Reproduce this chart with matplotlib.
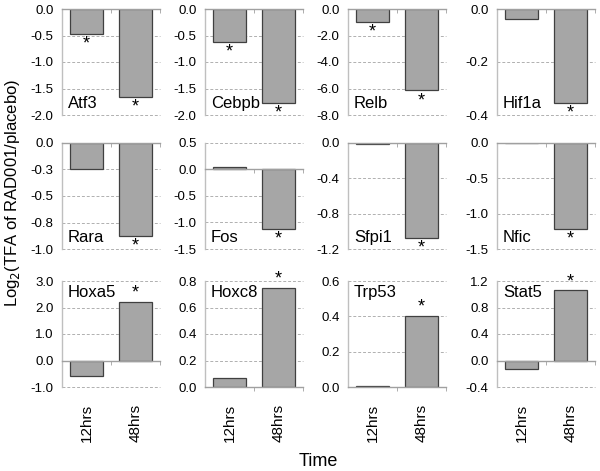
import matplotlib.pyplot as plt
import numpy as np

plt.rcParams['font.family'] = ['Liberation Sans', 'DejaVu Sans']

times = ["12hrs", "48hrs"]
genes = ["Atf3", "Cebpb", "Relb", "Hif1a",
         "Rara", "Fos", "Sfpi1", "Nfic",
         "Hoxa5", "Hoxc8", "Trp53", "Stat5"]
values = [[-0.47, -1.66], [-0.62, -1.78], [-1.0, -6.15], [-0.037, -0.355],
          [-0.245, -0.875], [0.05, -1.13], [-0.006, -1.07], [-0.006, -1.21],
          [-0.59, 2.21], [0.068, 0.75], [0.005, 0.404], [-0.125, 1.06]]
signif = [[True, True], [True, True], [True, True], [False, True],
          [False, True], [False, True], [False, True], [False, True],
          [False, True], [False, True], [False, True], [False, True]]
ylims = [(-2.0, 0.0), (-2.0, 0.0), (-8.0, 0.0), (-0.4, 0.0),
         (-1.0, 0.0), (-1.5, 0.5), (-1.2, 0.0), (-1.5, 0.0),
         (-1.0, 3.0), (0.0, 0.8), (0.0, 0.6), (-0.4, 1.2)]
ysteps = [0.5, 0.5, 2.0, 0.2, 0.25, 0.5, 0.4, 0.5, 1.0, 0.2, 0.2, 0.4]


def fmt(t):
    v = np.sign(t) * np.floor(abs(t) * 10 + 0.5) / 10
    return "%.1f" % v if abs(v) > 1e-9 else "0.0"


W, H = 600, 471
fig = plt.figure(figsize=(6, 4.71), dpi=100)
col_left = [62, 205, 348, 497]
row_top = [9, 143, 281]
aw, ah = 98, 106

for i, gene in enumerate(genes):
    r, c = divmod(i, 4)
    ax = fig.add_axes([col_left[c] / W, 1 - (row_top[r] + ah) / H, aw / W, ah / H])
    lo, hi = ylims[i]
    x = np.arange(2)
    ax.bar(x, values[i], width=0.66, color='#a6a6a6', edgecolor='#404040', linewidth=0.9, zorder=3)
    ax.set_xlim(-0.5, 1.5)
    ax.set_ylim(lo, hi)
    ticks = np.arange(lo, hi + 1e-9, ysteps[i])
    ax.set_yticks(ticks)
    ax.set_yticklabels([fmt(t) for t in ticks], fontsize=9.5)
    ax.tick_params(axis='y', length=0, pad=6)
    for t in ticks:
        if abs(t) > 1e-9:
            ax.axhline(t, color='#b0b0b0', lw=0.7, ls=(0, (3, 2)), zorder=1, clip_on=False)
    for s in ['top', 'right']:
        ax.spines[s].set_visible(False)
    ax.spines['left'].set_color('#bfbfbf')
    ax.spines['left'].set_linewidth(1.0)
    ax.spines['bottom'].set_position(('data', 0))
    ax.spines['bottom'].set_color('#a0a0a0')
    ax.spines['bottom'].set_linewidth(1.0)
    ax.spines['bottom'].set_zorder(4)
    ax.set_xticks([])
    ax.set_xticks([0.5, 1.5], minor=True)
    ax.tick_params(axis='x', which='minor', length=3, direction='out', color='#a0a0a0', labelbottom=False)

    span = hi - lo
    for j, v in enumerate(values[i]):
        if signif[i][j]:
            if v < 0:
                ax.text(j, v - span * 0.015, "*", ha='center', va='top', fontsize=13, zorder=5)
            else:
                ax.text(j, v, "*", ha='center', va='bottom', fontsize=13, zorder=5)

    if r < 2:
        ax.text(0.06, 0.04, gene, transform=ax.transAxes, ha='left', va='bottom', fontsize=12)
    else:
        ax.text(0.06, 0.96, gene, transform=ax.transAxes, ha='left', va='top', fontsize=12)
        sec = ax.secondary_xaxis('bottom')
        sec.set_xticks(x)
        sec.set_xticklabels(times, rotation=90, fontsize=11)
        sec.tick_params(length=0, pad=12)
        sec.spines['bottom'].set_visible(False)

fig.text(13 / W, 1 - 193 / H, "Log$_2$(TFA of RAD001/placebo)", rotation=90,
         ha='center', va='center', fontsize=12)
fig.text(318 / W, 1 - 462 / H, "Time", ha='center', va='center', fontsize=13)

fig.savefig("out.png", dpi=100)
